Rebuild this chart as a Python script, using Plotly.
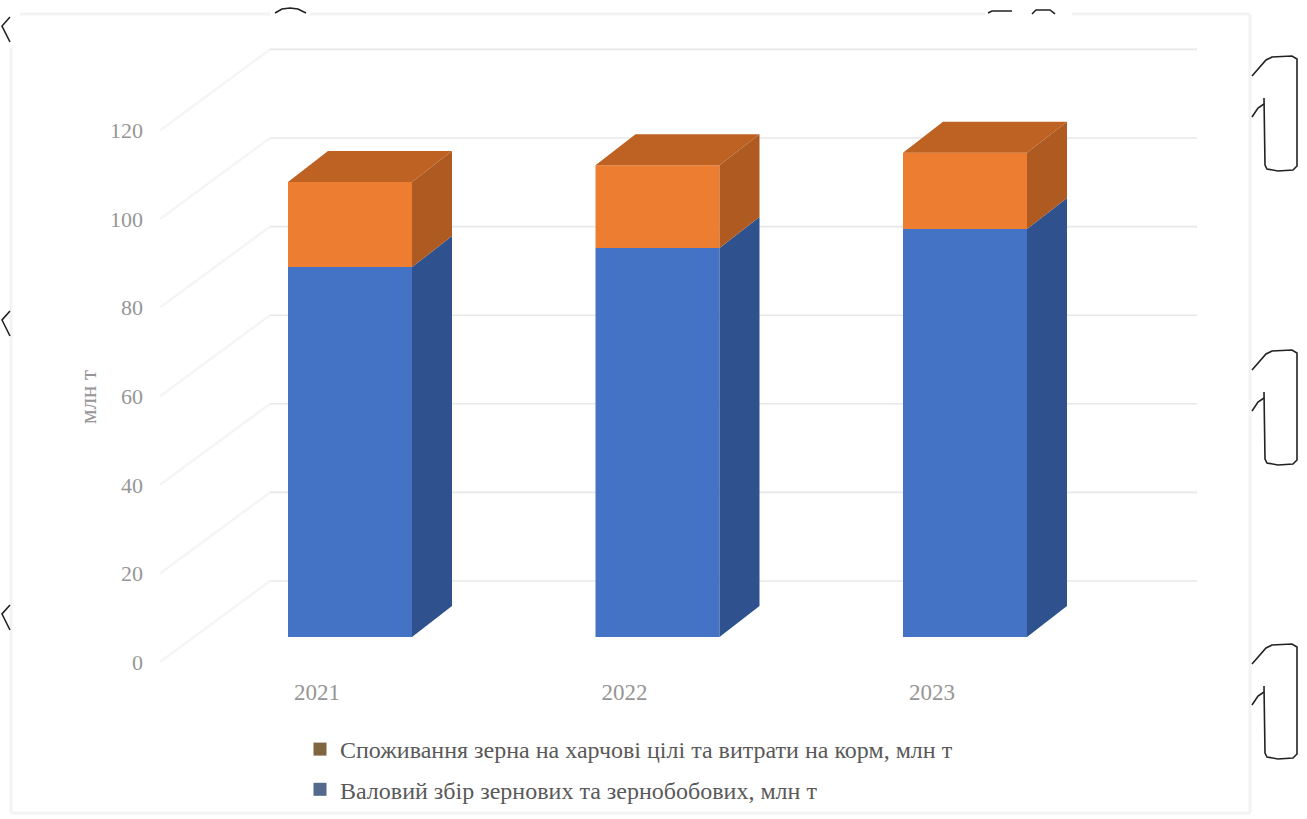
import plotly.graph_objects as go

years = ["2021", "2022", "2023"]
harvest = [83.5, 87.8, 92.1]
consumption = [19.2, 18.7, 17.2]
y_ticks = [0, 20, 40, 60, 80, 100, 120]
name_consumption = "Споживання зерна на харчові цілі та витрати на корм, млн т"
name_harvest = "Валовий збір зернових та зернобобових, млн т"
y_title = "млн т"

W, H = 1307, 819
PX_X = 307.5   # px per category
PX_Y = 4.43    # px per unit value
AX_L, AX_R, AX_T, AX_B = 144, 1197, 30, 676
X0_PX, Y0_PX = 317, 662
WALL_DX, WALL_DY = 110 / PX_X, 81 / PX_Y
BAR_SHIFT_X, BAR_SHIFT_Y = 33 / PX_X, 25 / PX_Y
BAR_W = 124 / PX_X
BAR_DX, BAR_DY = 40 / PX_X, 31 / PX_Y

SERIF = "Liberation Serif"


def px(x):
    return x / W


def py(y):
    return 1 - y / H


idx = list(range(len(years)))
bar_x = [i + BAR_SHIFT_X for i in idx]
totals = [a + b for a, b in zip(harvest, consumption)]
base_h = [BAR_SHIFT_Y] * len(years)
base_c = [BAR_SHIFT_Y + a for a in harvest]

fig = go.Figure()
fig.add_bar(x=bar_x, y=harvest, base=base_h, width=BAR_W, marker=dict(color="#4472c4", line_width=0),
            showlegend=False, hoverinfo="skip")
fig.add_bar(x=bar_x, y=consumption, base=base_c, width=BAR_W, marker=dict(color="#ed7d31", line_width=0),
            showlegend=False, hoverinfo="skip")


def poly(xs, ys, color):
    fig.add_scatter(x=xs, y=ys, mode="lines", fill="toself", fillcolor=color,
                    line=dict(width=0, color=color), showlegend=False, hoverinfo="skip")


for i in idx:
    r = bar_x[i] + BAR_W / 2
    l = bar_x[i] - BAR_W / 2
    b = BAR_SHIFT_Y
    m = BAR_SHIFT_Y + harvest[i]
    t = BAR_SHIFT_Y + totals[i]
    poly([r, r + BAR_DX, r + BAR_DX, r, r], [b, b + BAR_DY, m + BAR_DY, m, b], "#2f528f")
    poly([r, r + BAR_DX, r + BAR_DX, r, r], [m, m + BAR_DY, t + BAR_DY, t, m], "#ae5a21")
    poly([l, l + BAR_DX, r + BAR_DX, r, l], [t, t + BAR_DY, t + BAR_DY, t, t], "#bd6222")

fig.add_scatter(x=[None], y=[None], mode="markers", name=name_consumption, legendgroup="a",
                marker=dict(symbol="square", size=13, color="#7f6540"))
fig.add_scatter(x=[None], y=[None], mode="markers", name=name_harvest, legendgroup="b",
                marker=dict(symbol="square", size=13, color="#546a8c"))

shapes = []
x_left = (160 - X0_PX) / PX_X
for v in y_ticks:
    shapes.append(dict(type="line", layer="below", xref="x", yref="y",
                       x0=x_left, x1=x_left + WALL_DX, y0=v, y1=v + WALL_DY,
                       line=dict(color="#f5f5f5", width=2.5)))
    shapes.append(dict(type="line", layer="below", xref="x", yref="y",
                       x0=x_left + WALL_DX, x1=(AX_R - X0_PX) / PX_X, y0=v + WALL_DY, y1=v + WALL_DY,
                       line=dict(color="#e8e8e8", width=1.6)))

# faint page frame
frame = dict(color="#f3f3f3", width=3)
shapes += [
    dict(type="line", xref="paper", yref="paper", layer="below", x0=px(20), x1=px(270), y0=py(14), y1=py(14), line=frame),
    dict(type="line", xref="paper", yref="paper", layer="below", x0=px(310), x1=px(985), y0=py(14), y1=py(14), line=frame),
    dict(type="line", xref="paper", yref="paper", layer="below", x0=px(1072), x1=px(1250), y0=py(14), y1=py(14), line=frame),
    dict(type="line", xref="paper", yref="paper", layer="below", x0=px(11), x1=px(11), y0=py(48), y1=py(813), line=frame),
    dict(type="line", xref="paper", yref="paper", layer="below", x0=px(1250), x1=px(1250), y0=py(14), y1=py(813), line=frame),
    dict(type="line", xref="paper", yref="paper", layer="below", x0=px(11), x1=px(1250), y0=py(813), y1=py(813), line=frame),
]


def path(points):
    return "M" + " L".join(f"{px(a):.5f},{py(b):.5f}" for a, b in points)


ink = dict(color="#222222", width=1.6)
for dy in (0, 294, 588):
    shapes.append(dict(type="path", xref="paper", yref="paper", line=ink,
                       path=path([(1252, 76 + dy), (1266, 60 + dy), (1272, 57 + dy), (1292, 56 + dy), (1297, 59 + dy),
                                  (1297, 166 + dy), (1293, 170 + dy), (1278, 171 + dy), (1267, 169 + dy),
                                  (1265, 165 + dy), (1264, 98 + dy)])))
    shapes.append(dict(type="path", xref="paper", yref="paper", line=ink,
                       path=path([(1252, 117 + dy), (1258, 108 + dy), (1264, 104 + dy)])))
for dy in (0, 294, 588):
    shapes.append(dict(type="path", xref="paper", yref="paper", line=ink,
                       path=path([(10, 17 + dy), (2, 26 + dy), (10, 42 + dy)])))
for pts in ([(275, 13), (282, 9), (290, 8), (298, 9), (306, 13)],
            [(988, 13), (992, 11), (1012, 11)],
            [(1032, 14), (1036, 10), (1050, 10), (1055, 14)]):
    shapes.append(dict(type="path", xref="paper", yref="paper", line=ink, path=path(pts)))

fig.update_layout(
    width=W, height=H, margin=dict(l=0, r=0, t=0, b=0), autosize=False,
    paper_bgcolor="white", plot_bgcolor="rgba(0,0,0,0)",
    barmode="overlay", shapes=shapes,
    font=dict(family=SERIF),
    xaxis=dict(domain=[px(AX_L), px(AX_R)],
               range=[(AX_L - X0_PX) / PX_X, (AX_R - X0_PX) / PX_X],
               tickmode="array", tickvals=idx, ticktext=years, showgrid=False, zeroline=False,
               showline=False, ticks="", tickfont=dict(size=23, color="#969696", family=SERIF)),
    yaxis=dict(domain=[py(AX_B), py(AX_T)],
               range=[(Y0_PX - AX_B) / PX_Y, (Y0_PX - AX_T) / PX_Y],
               tickmode="array", tickvals=y_ticks, showgrid=False, zeroline=False,
               showline=False, ticks="", tickfont=dict(size=22, color="#969696", family=SERIF)),
    legend=dict(x=px(300), y=py(727), xanchor="left", yanchor="top", orientation="v",
                tracegroupgap=6, bgcolor="rgba(0,0,0,0)", traceorder="grouped",
                font=dict(size=24, color="#595959", family=SERIF), itemwidth=30),
    annotations=[dict(text=y_title, xref="paper", yref="paper", x=px(88), y=py(397), showarrow=False,
                      xanchor="center", yanchor="middle",
                      textangle=-90, font=dict(size=23, color="#969696", family=SERIF))],
)

fig.write_html("out.html", config={"displayModeBar": False},
               post_script="document.body.style.margin='0';document.body.style.overflow='hidden';")
